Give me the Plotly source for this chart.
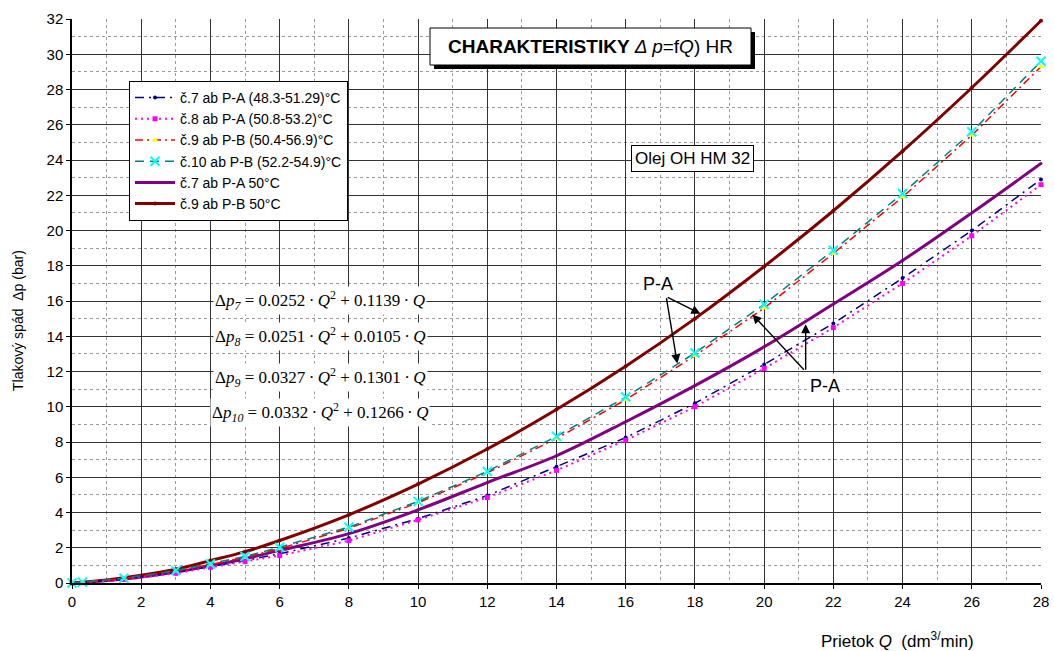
import plotly.graph_objects as go

# ---------------- data ----------------
Q = [0, 0.3, 1.5, 3, 4, 5, 6, 8, 10, 12, 14, 16, 18, 20, 22, 24, 26, 28]

dp7_meas = [0, 0.04, 0.24, 0.60, 0.92, 1.27, 1.66, 2.55, 3.65, 4.96, 6.60, 8.25, 10.2, 12.4, 14.73, 17.3, 20.0, 22.9]
dp8_meas = [0, 0.02, 0.20, 0.55, 0.89, 1.21, 1.55, 2.40, 3.58, 4.85, 6.39, 8.10, 10.0, 12.17, 14.49, 17.0, 19.7, 22.6]
dp9_meas = [0, 0.04, 0.25, 0.68, 1.05, 1.45, 1.95, 3.10, 4.55, 6.25, 8.20, 10.4, 12.9, 15.6, 18.7, 21.9, 25.4, 29.3]
dp10_meas = [0, 0.05, 0.27, 0.70, 1.08, 1.50, 2.03, 3.17, 4.63, 6.33, 8.32, 10.55, 13.05, 15.81, 18.88, 22.1, 25.6, 29.6]
dp7_50 = [0, 0.03, 0.22, 0.62, 0.98, 1.38, 1.85, 2.80, 4.15, 5.70, 7.22, 9.15, 11.2, 13.4, 15.83, 18.3, 21.0, 23.8]
dp9_50 = [0, 0.04, 0.30, 0.78, 1.27, 1.78, 2.41, 3.87, 5.61, 7.60, 9.84, 12.3, 15.0, 17.96, 21.12, 24.5, 28.1, 31.9]

names = [
    "č.7 ab P-A (48.3-51.29)°C",
    "č.8 ab P-A (50.8-53.2)°C",
    "č.9 ab P-B (50.4-56.9)°C",
    "č.10 ab P-B (52.2-54.9)°C",
    "č.7 ab P-A 50°C",
    "č.9 ab P-B 50°C",
]

x_ticks = list(range(0, 29, 2))
y_ticks = list(range(0, 33, 2))

DOT = "&#8201;·&#8201;"
equations = [
    f"Δ<i>p</i><sub><i>7</i></sub> = 0.0252{DOT}<i>Q</i><sup>2</sup> + 0.1139{DOT}<i>Q</i>",
    f"Δ<i>p</i><sub><i>8</i></sub> = 0.0251{DOT}<i>Q</i><sup>2</sup> + 0.0105{DOT}<i>Q</i>",
    f"Δ<i>p</i><sub><i>9</i></sub> = 0.0327{DOT}<i>Q</i><sup>2</sup> + 0.1301{DOT}<i>Q</i>",
    f"Δ<i>p</i><sub><i>10</i></sub> = 0.0332{DOT}<i>Q</i><sup>2</sup> + 0.1266{DOT}<i>Q</i>",
]

SANS = "Liberation Sans, Arial, sans-serif"
SERIF = "Liberation Serif, Times New Roman, serif"

# ---------------- layout geometry ----------------
W, H = 1054, 651
ML, MR, MT, MB = 72, 13, 19, 68
PW, PH = W - ML - MR, H - MT - MB


def px(xp):
    return (xp - ML) / PW


def py(yp):
    return (H - MB - yp) / PH


fig = go.Figure()

# smooth 50°C curves
fig.add_trace(go.Scatter(
    x=Q, y=dp7_50, name=names[4], mode="lines+markers",
    line=dict(color="#800080", width=3, shape="spline"),
    marker=dict(symbol="circle", size=3, color="#800080"),
    cliponaxis=False, legendrank=5))
fig.add_trace(go.Scatter(
    x=Q, y=dp9_50, name=names[5], mode="lines+markers",
    line=dict(color="#800000", width=3, shape="spline"),
    marker=dict(symbol="circle", size=4, color="#800000"),
    cliponaxis=False, legendrank=6))

# measured series
fig.add_trace(go.Scatter(
    x=Q, y=dp7_meas, name=names[0], mode="lines+markers",
    line=dict(color="#000080", width=1.5, dash="9px,5px,2px,5px"),
    marker=dict(symbol="circle", size=4, color="#000080"),
    cliponaxis=False, legendrank=1))
fig.add_trace(go.Scatter(
    x=Q, y=dp8_meas, name=names[1], mode="lines+markers",
    line=dict(color="#FF00FF", width=2, dash="2px,4px"),
    marker=dict(symbol="square", size=5, color="#FF00FF"),
    cliponaxis=False, legendrank=2))
fig.add_trace(go.Scatter(
    x=Q, y=dp9_meas, name=names[2], mode="lines+markers",
    line=dict(color="#FF0000", width=1.5, dash="8px,4px,2px,4px"),
    marker=dict(symbol="triangle-up", size=6, color="#FFFF00"),
    cliponaxis=False, legendrank=3))
fig.add_trace(go.Scatter(
    x=Q, y=dp10_meas, name=names[3], mode="lines+markers",
    line=dict(color="#008080", width=1.5, dash="9px,6px"),
    marker=dict(symbol="x-thin", size=9, color="#00FFFF",
                line=dict(color="#00FFFF", width=2)),
    cliponaxis=False, legendrank=4))

annotations = []
shapes = []

# title box with shadow
tb = (430, 28, 751, 65)
shapes.append(dict(type="rect", xref="paper", yref="paper",
                   x0=px(tb[0] + 4), x1=px(tb[2] + 4), y0=py(tb[1] + 4), y1=py(tb[3] + 4),
                   fillcolor="black", line=dict(width=0), layer="above"))
shapes.append(dict(type="rect", xref="paper", yref="paper",
                   x0=px(tb[0]), x1=px(tb[2]), y0=py(tb[1]), y1=py(tb[3]),
                   fillcolor="white", line=dict(color="black", width=1), layer="above"))
annotations.append(dict(
    xref="paper", yref="paper", x=px((tb[0] + tb[2]) / 2), y=py((tb[1] + tb[3]) / 2),
    text="<b>CHARAKTERISTIKY</b> <i>Δ p</i>=f<i>Q</i>) HR", showarrow=False,
    font=dict(family=SANS, size=19, color="black"), xanchor="center", yanchor="middle"))

# oil box
annotations.append(dict(
    xref="paper", yref="paper", x=px(692.5), y=py(158.5),
    text="Olej OH HM 32", showarrow=False,
    font=dict(family=SANS, size=17, color="black"),
    bgcolor="white", bordercolor="black", borderwidth=1, borderpad=3,
    xanchor="center", yanchor="middle"))

# equations
eq_y = [300.7, 336, 377, 412]
for txt, yy in zip(equations, eq_y):
    annotations.append(dict(
        xref="paper", yref="paper", x=px(320), y=py(yy), text=txt, showarrow=False,
        font=dict(family=SERIF, size=17, color="black"), bgcolor="white", borderpad=1,
        xanchor="center", yanchor="middle"))

# P-A labels and arrows (data coordinates)
annotations.append(dict(x=16.92, y=16.95, text="P-A", showarrow=False,
                        font=dict(family=SANS, size=18, color="black"),
                        bgcolor="white", borderpad=2))
annotations.append(dict(x=21.75, y=11.2, text="P-A", showarrow=False,
                        font=dict(family=SANS, size=18, color="black"),
                        bgcolor="white", borderpad=2))
arrows = [
    (17.17, 16.25, 18.16, 15.28),
    (17.17, 16.25, 17.49, 12.46),
    (21.19, 12.02, 19.66, 15.24),
    (21.2, 12.02, 21.2, 14.68),
]
for ax_, ay_, x_, y_ in arrows:
    annotations.append(dict(x=x_, y=y_, ax=ax_, ay=ay_, axref="x", ayref="y",
                            text="", showarrow=True, arrowhead=2, arrowsize=1.3,
                            arrowwidth=1.4, arrowcolor="black"))

# axis titles
annotations.append(dict(xref="paper", yref="paper", x=px(18), y=py(321),
                        text="Tlakový spád  Δp (bar)", textangle=-90, showarrow=False,
                        font=dict(family=SANS, size=14, color="black"),
                        xanchor="center", yanchor="middle"))
annotations.append(dict(xref="paper", yref="paper", x=px(897), y=py(640),
                        text="Prietok <i>Q</i>  (dm<sup>3/</sup>min)", showarrow=False,
                        font=dict(family=SANS, size=17, color="black"),
                        xanchor="center", yanchor="middle"))

fig.update_layout(
    width=W, height=H, autosize=False,
    margin=dict(l=ML, r=MR, t=MT, b=MB, autoexpand=False),
    paper_bgcolor="white", plot_bgcolor="white",
    font=dict(family=SANS, size=15, color="black"),
    showlegend=True,
    legend=dict(x=px(129), y=py(81), xanchor="left", yanchor="top",
                bgcolor="white", bordercolor="black", borderwidth=1,
                font=dict(family=SANS, size=14, color="black"),
                itemwidth=40, tracegroupgap=0),
    annotations=annotations,
    shapes=shapes,
)

axis_common = dict(
    showgrid=True, gridcolor="#333333", gridwidth=1,
    showline=True, linecolor="black", linewidth=1.5,
    ticks="outside", ticklen=4, tickcolor="black",
    tickfont=dict(family=SANS, size=15, color="black"),
    zeroline=False, automargin=False,
)
fig.update_xaxes(range=[0, 28], tickvals=x_ticks, ticktext=[str(v) for v in x_ticks],
                 minor=dict(dtick=1, tick0=0, showgrid=True, gridcolor="#9a9a9a",
                            griddash="dot", gridwidth=1),
                 **axis_common)
fig.update_yaxes(range=[0, 32], tickvals=y_ticks, ticktext=[str(v) for v in y_ticks],
                 minor=dict(dtick=1, tick0=0, showgrid=True, gridcolor="#9a9a9a",
                            griddash="dot", gridwidth=1),
                 **axis_common)

fig.write_html("out.html")
